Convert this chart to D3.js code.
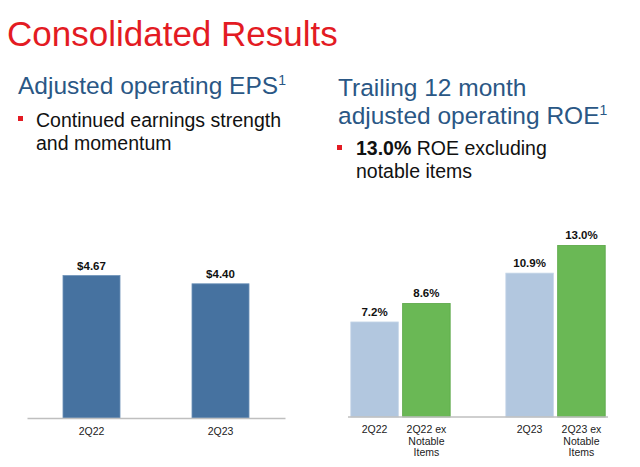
<!DOCTYPE html>
<html>
<head>
<meta charset="utf-8">
<script src="https://cdn.jsdelivr.net/npm/d3@7"></script>
<style>
  html, body { margin: 0; padding: 0; background: #fff; }
  svg { display: block; font-family: "Liberation Sans", Arial, sans-serif; }
</style>
</head>
<body>
<script>
// EPS chart data
var epsCategories = ["2Q22", "2Q23"];
var epsValues = [4.67, 4.40];
var epsLabels = ["$4.67", "$4.40"];

// ROE chart data
var roeGroups = ["2Q22", "2Q23"];
var roeSeries = ["reported", "exNotable"];
var roeReported = [7.2, 10.9];
var roeExNotable = [8.6, 13.0];
var roeTickLabels = [["2Q22"], ["2Q22 ex", "Notable", "Items"], ["2Q23"], ["2Q23 ex", "Notable", "Items"]];

var svg = d3.select("body").append("svg")
	.attr("width", 640)
	.attr("height", 467);

// headings
svg.append("text")
	.attr("x", 7).attr("y", 46)
	.style("font-size", "35px").style("fill", "#E31B23")
	.text("Consolidated Results");

var sub1 = svg.append("text")
	.attr("x", 18).attr("y", 94)
	.style("font-size", "24.5px").style("fill", "#2A5785");
sub1.append("tspan").text("Adjusted operating EPS");
sub1.append("tspan").attr("dy", -9).style("font-size", "14px").text("1");

var sub2 = svg.append("text")
	.style("font-size", "24.5px").style("fill", "#2A5785");
sub2.append("tspan").attr("x", 338).attr("y", 96).text("Trailing 12 month");
sub2.append("tspan").attr("x", 338).attr("y", 124).text("adjusted operating ROE");
sub2.append("tspan").attr("dy", -9).style("font-size", "14px").text("1");

// bullets
svg.append("rect").attr("x", 18).attr("y", 116).attr("width", 5).attr("height", 5).style("fill", "#E31B23");
svg.append("text")
	.style("font-size", "19.5px").style("fill", "#111")
	.selectAll("tspan")
	.data(["Continued earnings strength", "and momentum"])
	.enter().append("tspan")
	.attr("x", 36)
	.attr("y", function(d, i) { return 127 + i * 23; })
	.text(function(d) { return d; });

svg.append("rect").attr("x", 337).attr("y", 145).attr("width", 5).attr("height", 5).style("fill", "#E31B23");
var b2 = svg.append("text").style("font-size", "19.5px").style("fill", "#111");
b2.append("tspan").attr("x", 356).attr("y", 155).style("font-weight", "bold").text("13.0%");
b2.append("tspan").text(" ROE excluding");
b2.append("tspan").attr("x", 356).attr("y", 178).text("notable items");

// ---- left chart: EPS ----
var xE = d3.scaleBand()
	.domain(epsCategories)
	.range([27, 285])
	.paddingInner(0.558)
	.paddingOuter(0.279);

var yE = d3.scaleLinear()
	.domain([0, 5])
	.range([418, 418 - 152.5]);

svg.selectAll(".epsbar")
	.data(epsValues)
	.enter().append("rect")
	.attr("class", "epsbar")
	.attr("x", function(d, i) { return xE(epsCategories[i]); })
	.attr("y", function(d) { return yE(d); })
	.attr("width", xE.bandwidth())
	.attr("height", function(d) { return yE(0) - yE(d); })
	.style("fill", "#4672A0")
	.style("stroke", "#6D92B8")
	.style("stroke-width", 0.8);

svg.selectAll(".epslabel")
	.data(epsValues)
	.enter().append("text")
	.attr("x", function(d, i) { return xE(epsCategories[i]) + xE.bandwidth() / 2; })
	.attr("y", function(d) { return yE(d) - 6; })
	.attr("text-anchor", "middle")
	.style("font-size", "11.5px").style("font-weight", "bold").style("fill", "#111")
	.text(function(d, i) { return epsLabels[i]; });

var axE = svg.append("g")
	.attr("transform", "translate(0," + yE(0) + ")")
	.call(d3.axisBottom(xE).tickSize(0).tickPadding(10));
axE.select(".domain").style("stroke", "#BFBFBF").style("stroke-width", 1.5);
axE.selectAll("text").style("font-size", "10.5px").style("fill", "#222")
	.style("font-family", "Liberation Sans, Arial, sans-serif");

// ---- right chart: ROE ----
var x0 = d3.scaleBand()
	.domain(roeGroups)
	.range([348, 608])
	.paddingInner(0.359)
	.paddingOuter(0.018);

var x1 = d3.scaleBand()
	.domain(roeSeries)
	.range([0, x0.bandwidth()])
	.paddingInner(0.083);

var yR = d3.scaleLinear()
	.domain([0, 14])
	.range([417, 417 - 184.8]);

var roeColors = { reported: "#B2C7DF", exNotable: "#6AB855" };
var roeStroke = { reported: "#C6D6E8", exNotable: "#58A544" };

var roeData = [];
roeGroups.forEach(function(g, i) {
	roeData.push({ group: g, series: "reported", value: roeReported[i], label: roeTickLabels[i * 2] });
	roeData.push({ group: g, series: "exNotable", value: roeExNotable[i], label: roeTickLabels[i * 2 + 1] });
});

function cx(d) { return x0(d.group) + x1(d.series) + x1.bandwidth() / 2; }

svg.selectAll(".roebar")
	.data(roeData)
	.enter().append("rect")
	.attr("class", "roebar")
	.attr("x", function(d) { return x0(d.group) + x1(d.series); })
	.attr("y", function(d) { return yR(d.value); })
	.attr("width", x1.bandwidth())
	.attr("height", function(d) { return yR(0) - yR(d.value); })
	.style("fill", function(d) { return roeColors[d.series]; })
	.style("stroke", function(d) { return roeStroke[d.series]; })
	.style("stroke-width", 0.8);

svg.selectAll(".roelabel")
	.data(roeData)
	.enter().append("text")
	.attr("x", cx)
	.attr("y", function(d) { return yR(d.value) - 6; })
	.attr("text-anchor", "middle")
	.style("font-size", "11.5px").style("font-weight", "bold").style("fill", "#111")
	.text(function(d) { return d3.format(".1f")(d.value) + "%"; });

svg.append("line")
	.attr("x1", x0.range()[0]).attr("x2", x0.range()[1])
	.attr("y1", yR(0)).attr("y2", yR(0))
	.style("stroke", "#BFBFBF").style("stroke-width", 1.5);

svg.selectAll(".roecat")
	.data(roeData)
	.enter().append("text")
	.attr("class", "roecat")
	.attr("text-anchor", "middle")
	.style("font-size", "10.5px").style("fill", "#222")
	.each(function(d) {
		var t = d3.select(this);
		d.label.forEach(function(line, j) {
			t.append("tspan").attr("x", cx(d)).attr("y", yR(0) + 16 + j * 11.5).text(line);
		});
	});
</script>
</body>
</html>
